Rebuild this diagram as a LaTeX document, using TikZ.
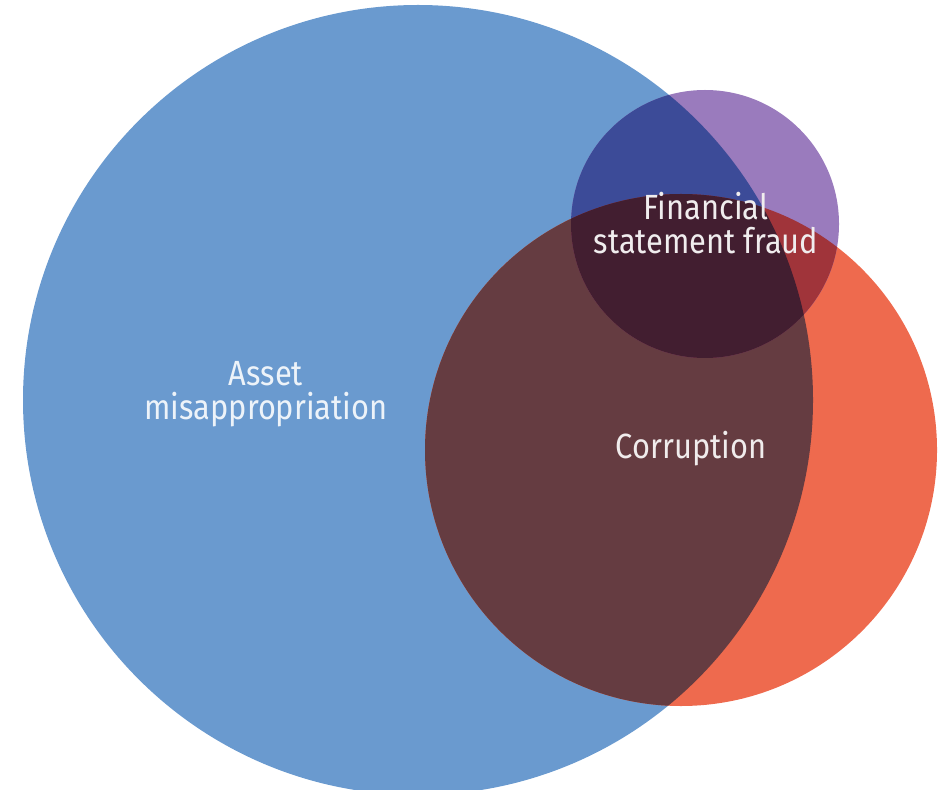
\documentclass[tikz,border=0pt]{standalone}
\usepackage{fontspec}
\setmainfont{Fira Sans}[FakeStretch=0.88]
\usetikzlibrary{positioning}
\definecolor{assetblue}{HTML}{6A9ACF}
\definecolor{corrred}{HTML}{EE6A4E}
\definecolor{fsfpurple}{HTML}{9A7BBD}
\definecolor{amco}{HTML}{653C41}
\definecolor{amfs}{HTML}{3C4B98}
\definecolor{cofs}{HTML}{A0343A}
\definecolor{allthree}{HTML}{421E30}

\begin{document}
\begin{tikzpicture}[
  x=0.5pt, y=-0.5pt,
  lbl/.style={align=center, font=\fontsize{17.5}{17}\selectfont, inner sep=0pt}
]
\useasboundingbox (0,0) rectangle (940,790);
\coordinate (am) at (418,400);
\coordinate (co) at (681,450);
\coordinate (fs) at (705,224);
\def\ramr{197.5pt}
\def\rcor{128pt}
\def\rfsr{67pt}
% single sets
\fill[assetblue] (am) circle (\ramr);
\fill[corrred] (co) circle (\rcor);
\fill[fsfpurple] (fs) circle (\rfsr);
% overlaps
\begin{scope}
  \clip (am) circle (\ramr);
  \fill[amco] (co) circle (\rcor);
  \fill[amfs] (fs) circle (\rfsr);
\end{scope}
\begin{scope}
  \clip (co) circle (\rcor);
  \fill[cofs] (fs) circle (\rfsr);
  \clip (am) circle (\ramr);
  \fill[allthree] (fs) circle (\rfsr);
\end{scope}
% labels
\node[lbl, text=white!88!assetblue] (amlbl) at (266,394) {Asset\\misappropriation};
\node[lbl, text=white!90!amco] (colbl) at (691,449) {Corruption};
\node[lbl, text=white!92!allthree] (fslbl) at (706,223) {Financial\\statement fraud};
\end{tikzpicture}
\end{document}
